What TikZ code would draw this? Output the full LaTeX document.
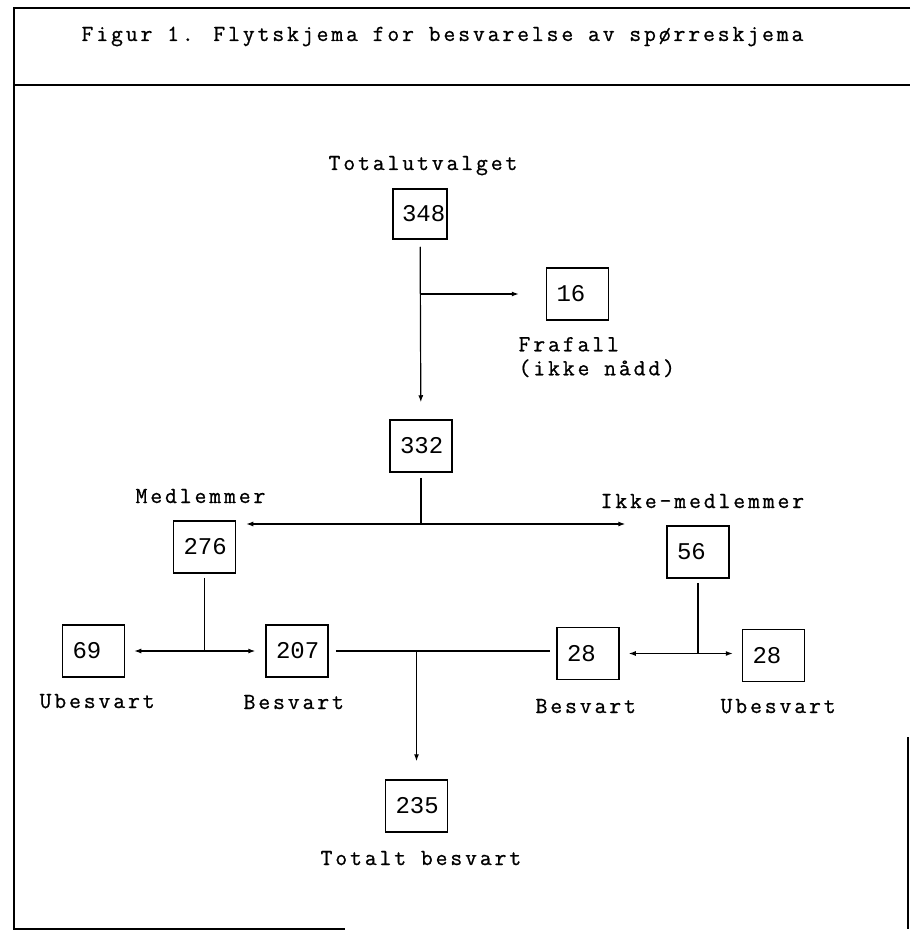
\documentclass[tikz,border=0pt]{standalone}
\usepackage{fontspec}
\newfontfamily\typewriter[LetterSpace=12.6,FakeBold=0.8]{Latin Modern Mono}
\newfontfamily\digits{Liberation Mono}
\usetikzlibrary{positioning,arrows.meta}

\begin{document}
\begin{tikzpicture}[x=1pt,y=-1pt,>={Latex[length=7pt,width=5pt]},line width=1.2pt,
	box/.style={draw,line width=1.5pt,minimum height=52pt,text width=42pt,inner xsep=10pt,inner ysep=0pt,align=left,font=\digits\fontsize{24}{24}\selectfont},
	lbl/.style={anchor=base west,inner sep=0pt,font=\typewriter\fontsize{23}{24}\selectfont}]
	\useasboundingbox (0,0) rectangle (910,933);
	% frame and heading
	\draw [line width=1.6pt] (910,8) -- (14,8) -- (14,929) -- (345,929);
	\draw [line width=1.6pt] (14,85) -- (910,85);
	\draw [line width=1.6pt] (908,737) -- (908,929);
	\node [lbl] at (81,41) (Title) {Figur 1. Flytskjema for besvarelse av spørreskjema};
	% boxes
	\node [box,text width=36pt,inner xsep=9pt,minimum height=50pt] at (420,214) (Total) {348};
	\node [box] at (577.5,294) (Lost) {16};
	\node [box] at (421,446) (Reached) {332};
	\node [box] at (204.5,547) (Members) {276};
	\node [box] at (698,552) (NonMembers) {56};
	\node [box] at (93.5,651) (MemNo) {69};
	\node [box] at (297,651) (MemYes) {207};
	\node [box] at (588,653.5) (NonYes) {28};
	\node [box] at (773.5,655.5) (NonNo) {28};
	\node [box] at (416.5,806) (Answered) {235};
	% labels
	\node [lbl] at (328,170) (TotalLabel) {Totalutvalget};
	\node [lbl,align=left,anchor=north west] at (518,336.5) (LostLabel) {Frafall\\(ikke nådd)};
	\node [lbl] at (135,503) (MembersLabel) {Medlemmer};
	\node [lbl] at (600,508) (NonMembersLabel) {Ikke-medlemmer};
	\node [lbl] at (39,708) (MemNoLabel) {Ubesvart};
	\node [lbl] at (243,709) (MemYesLabel) {Besvart};
	\node [lbl] at (535,713) (NonYesLabel) {Besvart};
	\node [lbl] at (720,713) (NonNoLabel) {Ubesvart};
	\node [lbl] at (320,865) (AnsweredLabel) {Totalt besvart};
	% connectors
	\draw [->,shorten <=7pt,shorten >=17pt] (Total) -- (Reached);
	\draw [->,shorten >=27pt] (Total |- Lost) -- (Lost);
	\coordinate (Split) at (Reached.south |- 0,524);
	\draw [shorten <=5pt] (Reached) -- (Split);
	\draw [->,shorten >=10pt] (Split) -- (Split -| Members.east);
	\draw [->,shorten >=41pt] (Split) -- (Split -| NonMembers.west);
	\coordinate (MemSplit) at (Members |- MemNo);
	\draw [shorten <=4pt] (Members) -- (MemSplit);
	\draw [->,shorten >=9pt] (MemSplit) -- (MemNo);
	\draw [->,shorten >=10pt] (MemSplit) -- (MemSplit -| MemYes.west);
	\coordinate (NonSplit) at (NonMembers |- NonYes);
	\draw [shorten <=4pt] (NonMembers) -- (NonSplit);
	\draw [->,shorten >=9pt] (NonSplit) -- (NonYes);
	\draw [->,shorten >=9pt] (NonSplit) -- (NonSplit -| NonNo.west);
	\draw [shorten <=7pt,shorten >=6pt] (MemYes.east) -- (MemYes.east -| NonYes.west);
	\draw [->,shorten >=18pt] (Answered |- MemYes) -- (Answered);
\end{tikzpicture}
\end{document}
